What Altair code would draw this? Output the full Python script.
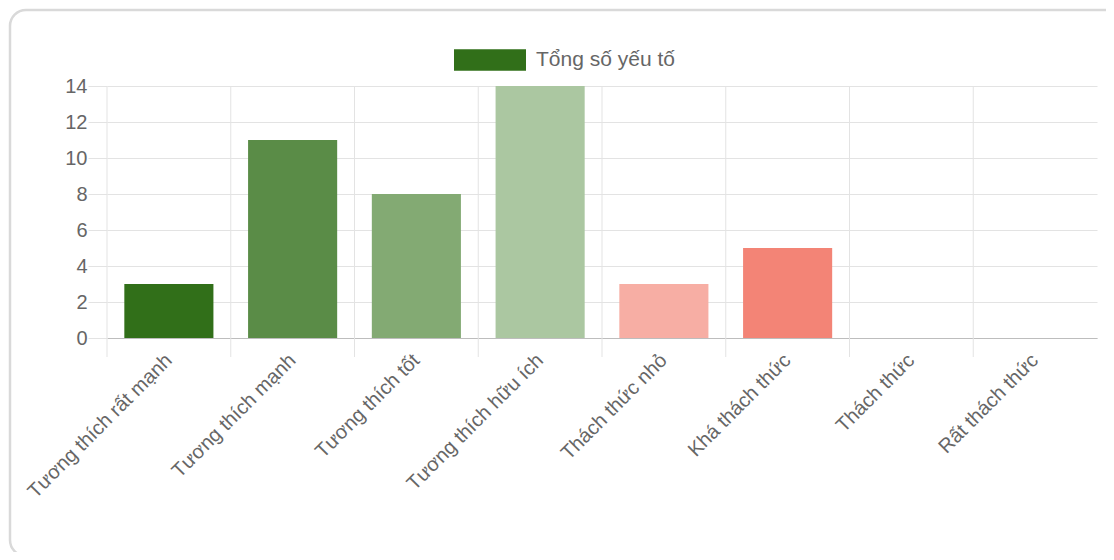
import altair as alt
import pandas as pd

categories = [
    "Tương thích rất mạnh",
    "Tương thích mạnh",
    "Tương thích tốt",
    "Tương thích hữu ích",
    "Thách thức nhỏ",
    "Khá thách thức",
    "Thách thức",
    "Rất thách thức",
]
values = [3, 11, 8, 14, 3, 5, 0, 0]
bar_colors = ["#316f19", "#5a8c47", "#83aa73", "#abc7a1", "#f7aea4", "#f38476", "#f38476", "#f38476"]
series_name = "Tổng số yếu tố"
series_color = "#316f19"
y_ticks = [0, 2, 4, 6, 8, 10, 12, 14]

df = pd.DataFrame({"cat": categories, "val": values, "color": bar_colors, "series": series_name})

FONT = "Helvetica Neue, Helvetica, Liberation Sans, Arial, sans-serif"
TXT = "#666666"
GRID = "#e3e3e3"

W, H = 990, 252

xscale = alt.Scale(domain=categories, paddingInner=0, paddingOuter=0)
yscale = alt.Scale(domain=[0, 14])
yaxis = alt.Axis(title=None, values=y_ticks, tickCount=8, grid=True, gridColor=GRID,
                 ticks=True, tickSize=19, tickColor=GRID, domain=False,
                 labelOverlap=False, labelBound=False, labelFlush=False,
                 labelPadding=1, labelFontSize=20, labelColor=TXT, labelFont=FONT)

base = alt.Chart(df)

card = base.transform_filter("datum.cat == '%s'" % categories[0]).mark_rect(
    cornerRadius=16, fillOpacity=0, stroke="#d9d9d9", strokeWidth=2.5
).encode(
    x=alt.value(-97), x2=alt.value(1030), y=alt.value(-76), y2=alt.value(470)
)

vgrid = base.mark_rule(color=GRID, strokeWidth=1).encode(
    x=alt.X("cat:N", sort=categories, scale=xscale, bandPosition=0,
            axis=alt.Axis(title=None, grid=False, ticks=False, domain=True,
                          domainColor="#bdbdbd", domainWidth=1.2,
                          labelAngle=-45, labelAlign="right", labelBaseline="middle",
                          labelPadding=19, labelFontSize=20, labelColor=TXT, labelFont=FONT,
                          labelOverlap=False, labelLimit=400)),
    y=alt.value(0), y2=alt.value(271),
)

bars = base.mark_bar(width=alt.RelativeBandSize(0.72)).encode(
    x=alt.X("cat:N", sort=categories, scale=xscale),
    y=alt.Y("val:Q", scale=yscale, axis=yaxis),
    color=alt.Color("color:N", scale=None, legend=None),
)

legend_layer = base.mark_point(opacity=0, filled=True, fill=series_color,
                               stroke="#d6d6d6", strokeWidth=1.5).encode(
    x=alt.X("cat:N", sort=categories, scale=xscale),
    y=alt.Y("val:Q", scale=yscale, axis=yaxis),
    shape=alt.Shape("series:N",
                    scale=alt.Scale(domain=[series_name], range=["M-1,-0.3H1V0.3H-1Z"]),
                    legend=alt.Legend(title=None, orient="none", legendX=346, legendY=-63,
                                      padding=0, symbolSize=5184, symbolFillColor=series_color,
                                      symbolStrokeColor="#d6d6d6", symbolStrokeWidth=1.5,
                                      symbolOpacity=1, labelOffset=9, labelFontSize=21,
                                      labelColor=TXT, labelFont=FONT)),
)

chart = alt.layer(card, vgrid, bars, legend_layer).properties(
    width=W, height=H,
    autosize=alt.AutoSizeParams(type="none"),
    padding={"left": 99, "top": 78, "right": 9, "bottom": 214},
    background="white",
).configure_view(stroke=None)

chart.save("out.html", embed_options={"renderer": "svg", "actions": False})
